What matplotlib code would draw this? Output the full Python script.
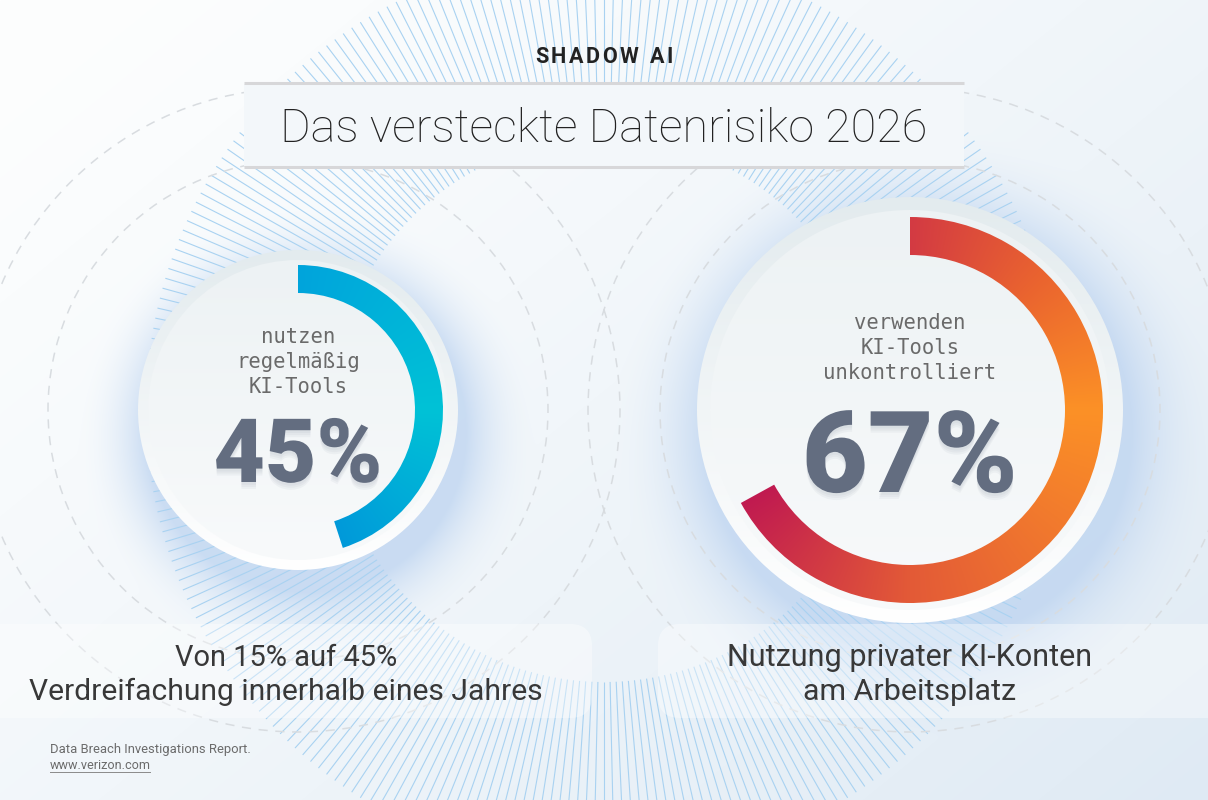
import numpy as np
import matplotlib
matplotlib.use("Agg")
import matplotlib.pyplot as plt
from matplotlib.patches import Circle, Wedge, FancyBboxPatch, Rectangle
from matplotlib.collections import LineCollection
from matplotlib.colors import to_rgb
import matplotlib.patheffects as pe

# ===================
# DATA
# ===================
PERCENTS = [45, 67]
CENTER_LABELS = [["nutzen", "regelmäßig", "KI-Tools"],
                 ["verwenden", "KI-Tools", "unkontrolliert"]]
CAPTIONS = [["Von 15% auf 45%", "Verdreifachung innerhalb eines Jahres"],
            ["Nutzung privater KI-Konten", "am Arbeitsplatz"]]
KICKER = "SHADOW AI"
TITLE = "Das versteckte Datenrisiko 2026"
SOURCE = ["Data Breach Investigations Report.", "www.verizon.com"]

# ===================
# LAYOUT / STYLE
# ===================
W, H = 1208, 800
CENTERS = [(298, 410), (910, 410)]
DISK_R = [160, 213]
FACE_R = [150, 200]
RING_OUT = [145, 193]
RING_W = [28, 38]
# conic gradient stops (degrees clockwise from 12 o'clock)
ARC_STOPS = [[0, 90, 180, 360], [0, 45, 90, 180, 245, 360]]
ARC_COLORS = [["#00a4dc", "#00c2d6", "#008fdb", "#008fdb"],
              ["#d33a43", "#ea642f", "#fc9126", "#e35a37", "#be1652", "#be1652"]]
PCT_WIDTH = [169, 216]
PCT_BASE = [482, 492]
LABEL_BASE = [[343, 368, 393], [329, 354, 379]]
CAPTION_X = [286, 910]
CAPTION_BASE = [666, 700]
CAPTION_WIDTH = [[222, 512], [364, 212]]
SUN_CENTER = (604, 410)
SUN_R = (272, 458)
N_RAYS = 280
DASH_R = [250, 322]
PCT_COLOR = "#636d80"


def fit_text(ax, x, y, s, width, **kw):
    t = ax.text(x, y, s, **kw)
    r = ax.figure.canvas.get_renderer()
    w = t.get_window_extent(r).width
    t.set_fontsize(t.get_fontsize() * width / w)
    return t


def tracked_text(ax, xc, y, s, width, **kw):
    # place letters one by one so the word gets letter spacing
    r = ax.figure.canvas.get_renderer()
    arts, widths = [], []
    for ch in s:
        t = ax.text(0, y, ch if ch != " " else "n", ha="left", va="baseline", **kw)
        widths.append(t.get_window_extent(r).width * (0.5 if ch == " " else 1.0))
        if ch == " ":
            t.set_visible(False)
        arts.append(t)
    gap = (width - sum(widths)) / (len(s) - 1)
    x = xc - width / 2
    for t, w in zip(arts, widths):
        t.set_x(x)
        x += w + gap


def background(ax):
    yy, xx = np.mgrid[0:H, 0:W].astype(float)
    s = np.clip(0.55 * xx / W + 0.45 * yy / H, 0, 1) ** 1.3
    c0, c1 = np.array(to_rgb("#fdfefe")), np.array(to_rgb("#dfeaf4"))
    img = (1 - s)[..., None] * c0 + s[..., None] * c1
    glow = np.array(to_rgb("#bcd3f0"))
    for (cx, cy), r in zip(CENTERS, DISK_R):
        d = np.hypot(xx - (cx + 8), yy - (cy + 22))
        g = np.clip(1 - (d - r) / (0.45 * r), 0, 1) ** 2 * 0.75
        img = (1 - g)[..., None] * img + g[..., None] * glow
    ax.imshow(img, extent=(0, W, H, 0), origin="upper", zorder=0, aspect="auto")


def gradient_disk(ax, c, r, top, bottom, z):
    cx, cy = c
    n = int(2 * r) + 2
    t = np.linspace(0, 1, n)[:, None, None]
    img = (1 - t) * np.array(to_rgb(top)) + t * np.array(to_rgb(bottom))
    img = np.repeat(img, 2, axis=1)
    im = ax.imshow(img, extent=(cx - r, cx + r, cy + r, cy - r), origin="upper",
                   zorder=z, aspect="auto", interpolation="bilinear")
    circ = Circle(c, r, fc="none", ec="none", zorder=z)
    ax.add_patch(circ)
    im.set_clip_path(circ)


def gradient_arc(ax, c, r_out, width, frac, stops, colors, z):
    cx, cy = c
    n = int(2 * r_out) + 2
    xs = np.linspace(cx - r_out, cx + r_out, n)
    ys = np.linspace(cy - r_out, cy + r_out, n)
    X, Y = np.meshgrid(xs, ys)
    ang = np.degrees(np.arctan2(X - cx, -(Y - cy))) % 360
    rgb = np.array([to_rgb(col) for col in colors])
    img = np.stack([np.interp(ang, stops, rgb[:, k]) for k in range(3)], axis=-1)
    im = ax.imshow(img, extent=(cx - r_out, cx + r_out, cy + r_out, cy - r_out),
                   origin="upper", zorder=z, aspect="auto")
    wedge = Wedge(c, r_out, -90, -90 + 360 * frac, width=width, fc="none", ec="none")
    ax.add_patch(wedge)
    im.set_clip_path(wedge)


fig = plt.figure(figsize=(W / 100, H / 100), dpi=100)
ax = fig.add_axes([0, 0, 1, 1])
ax.set_xlim(0, W)
ax.set_ylim(H, 0)
ax.axis("off")

background(ax)

# sunburst rays
th = np.linspace(0, 2 * np.pi, N_RAYS, endpoint=False)
sx, sy = SUN_CENTER
segs = [[(sx + SUN_R[0] * np.cos(a), sy + SUN_R[0] * np.sin(a)),
         (sx + SUN_R[1] * np.cos(a), sy + SUN_R[1] * np.sin(a))] for a in th]
ax.add_collection(LineCollection(segs, colors="#a9d2f1", linewidths=0.8, zorder=1))

# dashed orbit circles
for c in CENTERS:
    for r in DASH_R:
        ax.add_patch(Circle(c, r, fill=False, ec="#d8dce0", lw=1.1,
                            ls=(0, (6, 5)), zorder=1.5))

# title block
ax.add_patch(Rectangle((244, 84), 720, 82, fc="#f3f7fa", ec="none", zorder=4))
for y in (83, 167):
    ax.plot([244, 964], [y, y], color="#d7d7d9", lw=2.2, zorder=5,
            solid_capstyle="butt")
tracked_text(ax, 604, 63, KICKER, 138, family=["Roboto", "DejaVu Sans"],
             weight="bold", color="#222222", fontsize=15.5, zorder=6)
fit_text(ax, 604, 142, TITLE, 647, ha="center", va="baseline",
         family=["Roboto", "DejaVu Sans"], weight="light", color="#222222",
         fontsize=30, zorder=6)

# donuts
shadow = [pe.SimplePatchShadow(offset=(0, -k), shadow_rgbFace="#7d879a", alpha=0.07)
          for k in (2, 3.5, 5)] + [pe.Normal()]
for i, c in enumerate(CENTERS):
    gradient_disk(ax, c, DISK_R[i], "#e3ebee", "#ffffff", 3)
    gradient_disk(ax, c, FACE_R[i], "#edf2f4", "#f8fafb", 3.1)
    gradient_arc(ax, c, RING_OUT[i], RING_W[i], PERCENTS[i] / 100,
                 ARC_STOPS[i], ARC_COLORS[i], 3.2)
    for line, yb in zip(CENTER_LABELS[i], LABEL_BASE[i]):
        ax.text(c[0], yb, line, ha="center", va="baseline",
                family="DejaVu Sans Mono", fontsize=14.8, color="#6a6a6a", zorder=4)
    fit_text(ax, c[0], PCT_BASE[i], f"{PERCENTS[i]}%", PCT_WIDTH[i],
             ha="center", va="baseline", family=["Roboto", "DejaVu Sans"],
             weight="black", color=PCT_COLOR, fontsize=60, zorder=4,
             path_effects=shadow)

# caption boxes
ax.add_patch(FancyBboxPatch((-40, 624), 632, 94,
                            boxstyle="round,pad=0,rounding_size=22",
                            fc="white", ec="none", alpha=0.38, zorder=4))
ax.add_patch(FancyBboxPatch((658, 624), 600, 94,
                            boxstyle="round,pad=0,rounding_size=22",
                            fc="white", ec="none", alpha=0.38, zorder=4))
for i in range(2):
    for j, line in enumerate(CAPTIONS[i]):
        fit_text(ax, CAPTION_X[i], CAPTION_BASE[j], line, CAPTION_WIDTH[i][j],
                 ha="center", va="baseline", family=["Roboto", "DejaVu Sans"],
                 color="#383838", fontsize=20, zorder=5)

# source
fit_text(ax, 50, 753, SOURCE[0], 198, ha="left", va="baseline",
         family=["Roboto", "DejaVu Sans"], color="#6b6b6b", fontsize=8.5, zorder=5)
fit_text(ax, 50, 769, SOURCE[1], 100, ha="left", va="baseline",
         family=["Roboto", "DejaVu Sans"], color="#6b6b6b", fontsize=8.5, zorder=5)
ax.plot([50, 150], [771.5, 771.5], color="#8a8a8a", lw=0.7, zorder=5)

ax.set_xlim(0, W)
ax.set_ylim(H, 0)
fig.savefig("out.png", dpi=100)
